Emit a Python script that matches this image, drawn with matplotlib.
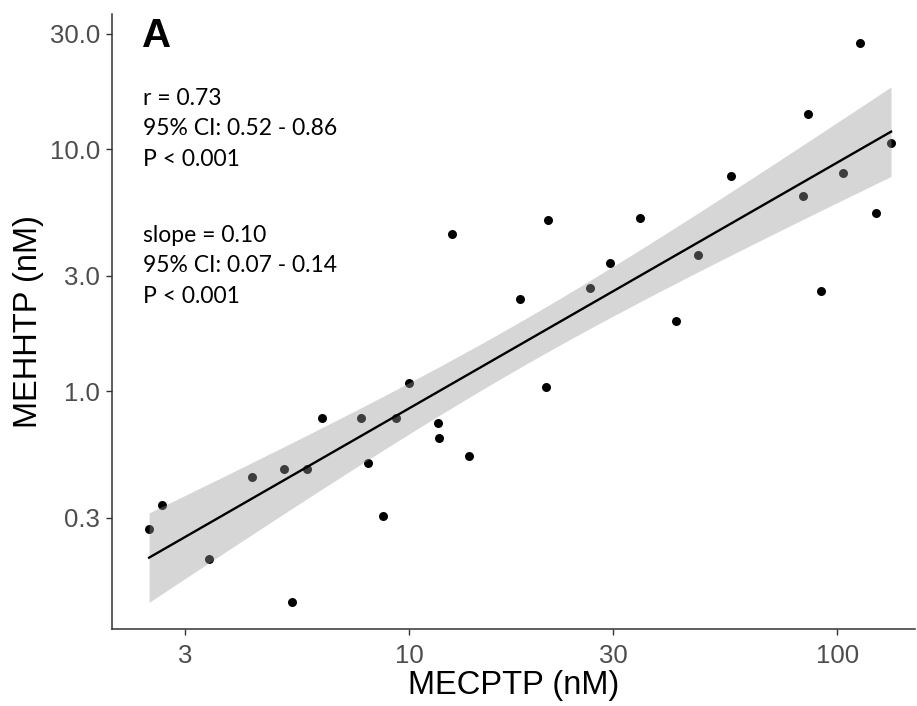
import numpy as np
import matplotlib
matplotlib.use("Agg")
import matplotlib.pyplot as plt
from matplotlib.ticker import FixedLocator, NullLocator

# MECPTP (nM) vs MEHHTP (nM)
mecptp = [2.47, 2.65, 3.40, 4.29, 5.11, 5.77, 5.32, 6.27, 7.71, 8.01, 8.68, 9.33,
          10.0, 11.67, 11.77, 12.58, 13.79, 20.9, 18.2, 21.1, 26.4, 29.4, 34.7,
          42.0, 47.4, 56.4, 83.3, 85.4, 91.8, 103.1, 112.8, 123.1, 133.5]
mehhtp = [0.270, 0.337, 0.203, 0.440, 0.476, 0.476, 0.135, 0.773, 0.773, 0.506,
          0.305, 0.773, 1.076, 0.740, 0.639, 4.44, 0.539, 1.04, 2.40, 5.12, 2.68,
          3.39, 5.20, 1.95, 3.67, 7.71, 6.38, 14.0, 2.60, 7.94, 27.5, 5.45, 10.56]

x_ticks = [3, 10, 30, 100]
x_ticklabels = ["3", "10", "30", "100"]
y_ticks = [0.3, 1.0, 3.0, 10.0, 30.0]
y_ticklabels = ["0.3", "1.0", "3.0", "10.0", "30.0"]

stats_text_1 = "r = 0.73\n95% CI: 0.52 - 0.86\nP < 0.001"
stats_text_2 = "slope = 0.10\n95% CI: 0.07 - 0.14\nP < 0.001"

# log-log OLS fit with 95% confidence band
lx = np.log10(mecptp)
ly = np.log10(mehhtp)
n = len(lx)
b1, b0 = np.polyfit(lx, ly, 1)
res = ly - (b0 + b1 * lx)
s = np.sqrt(np.sum(res ** 2) / (n - 2))
gx = np.linspace(lx.min(), lx.max(), 80)
gy = b0 + b1 * gx
se = s * np.sqrt(1 / n + (gx - lx.mean()) ** 2 / np.sum((lx - lx.mean()) ** 2))
tcrit = 2.0395  # t(0.975, df=31)

fig = plt.figure(figsize=(9.17, 7.06), dpi=100)
ax = fig.add_axes([0.1221, 0.109, 0.876, 0.871])
ax.set_xscale("log")
ax.set_yscale("log")

ax.scatter(mecptp, mehhtp, s=42, color="black", zorder=2, linewidths=0)
ax.fill_between(10 ** gx, 10 ** (gy - tcrit * se), 10 ** (gy + tcrit * se),
                color="#999999", alpha=0.4, linewidth=0, zorder=3)
ax.plot(10 ** gx, 10 ** gy, color="black", lw=1.7, zorder=4)

ax.set_xlim(10 ** 0.306, 10 ** 2.182)
ax.set_ylim(10 ** -0.983, 10 ** 1.558)

ax.xaxis.set_major_locator(FixedLocator(x_ticks))
ax.xaxis.set_minor_locator(NullLocator())
ax.set_xticklabels(x_ticklabels)
ax.yaxis.set_major_locator(FixedLocator(y_ticks))
ax.yaxis.set_minor_locator(NullLocator())
ax.set_yticklabels(y_ticklabels)

for sp in ["top", "right"]:
    ax.spines[sp].set_visible(False)
for sp in ["left", "bottom"]:
    ax.spines[sp].set_color("#333333")
    ax.spines[sp].set_linewidth(1.1)
ax.tick_params(axis="both", colors="#333333", length=4.5, width=1.0,
               labelsize=18.5, labelcolor="#4D4D4D")
ax.tick_params(axis="y", pad=4)
ax.tick_params(axis="x", pad=6)
for lab in ax.get_xticklabels() + ax.get_yticklabels():
    lab.set_family("Liberation Sans")

ax.set_xlabel("MECPTP (nM)", fontsize=23.5, family="Liberation Sans", labelpad=2)
ax.set_ylabel("MEHHTP (nM)", fontsize=23.5, family="Liberation Sans", labelpad=4)

fig.text(142 / 917, 1 - 36 / 706, "A", fontsize=29, fontweight="bold",
         family="Liberation Sans", va="center", ha="left")
fig.text(143 / 917, 1 - 88 / 706, stats_text_1, fontsize=16.5, family="Lato",
         va="top", ha="left", linespacing=1.55)
fig.text(143 / 917, 1 - 225 / 706, stats_text_2, fontsize=16.5, family="Lato",
         va="top", ha="left", linespacing=1.55)

fig.savefig("out.png", dpi=100)
